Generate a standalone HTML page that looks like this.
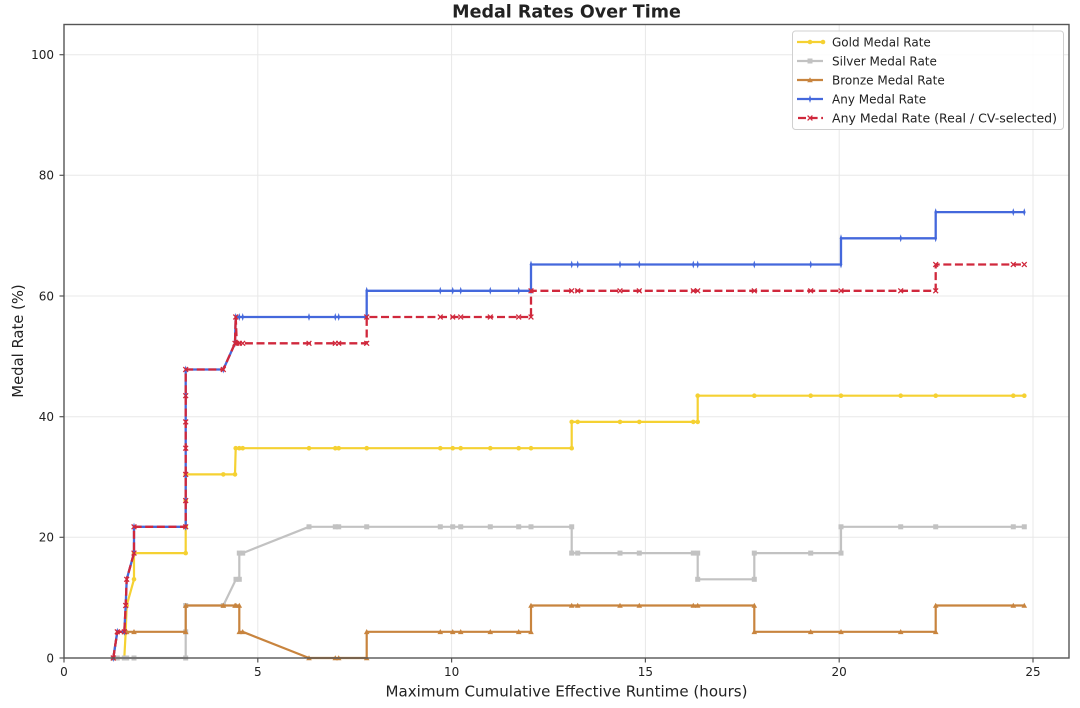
<!DOCTYPE html>
<html>
<head>
<meta charset="utf-8">
<style>
html,body{margin:0;padding:0;background:#fff;}
svg{display:block;}
text{font-family:"DejaVu Sans","Liberation Sans",sans-serif;fill:#222;}
</style>
</head>
<body>
<svg width="1080" height="708" viewBox="0 0 1080 708" xmlns="http://www.w3.org/2000/svg">
<defs>
  <marker id="mg" markerWidth="8" markerHeight="8" refX="4" refY="4" markerUnits="userSpaceOnUse"><circle cx="4" cy="4" r="2.3" fill="#f5d132"/></marker>
  <marker id="ms" markerWidth="8" markerHeight="8" refX="4" refY="4" markerUnits="userSpaceOnUse"><rect x="1.5" y="1.5" width="5" height="5" fill="#c2c2c2"/></marker>
  <marker id="mb" markerWidth="8" markerHeight="8" refX="4" refY="4" markerUnits="userSpaceOnUse"><polygon points="4,1.2 6.8,6.3 1.2,6.3" fill="#c8843e"/></marker>
  <marker id="ma" markerWidth="8" markerHeight="10" refX="4" refY="5" markerUnits="userSpaceOnUse"><path d="M4,1 L5.3,5 L4,9 L2.7,5 Z" fill="#4468dc"/></marker>
  <marker id="mr" markerWidth="8" markerHeight="8" refX="4" refY="4" markerUnits="userSpaceOnUse"><path d="M1.6,1.6 L6.4,6.4 M6.4,1.6 L1.6,6.4" stroke="#d0283c" stroke-width="1.3"/></marker>
</defs>

<!-- title -->
<text x="566.5" y="17.7" font-size="17.5" font-weight="bold" text-anchor="middle" fill="#111">Medal Rates Over Time</text>

<!-- grid -->
<g stroke="#e8e8e8" stroke-width="1">
  <line x1="64" y1="24.5" x2="64" y2="658"/>
  <line x1="257.8" y1="24.5" x2="257.8" y2="658"/>
  <line x1="451.6" y1="24.5" x2="451.6" y2="658"/>
  <line x1="645.4" y1="24.5" x2="645.4" y2="658"/>
  <line x1="839.2" y1="24.5" x2="839.2" y2="658"/>
  <line x1="1033" y1="24.5" x2="1033" y2="658"/>
  <line x1="64" y1="537.3" x2="1069" y2="537.3"/>
  <line x1="64" y1="416.7" x2="1069" y2="416.7"/>
  <line x1="64" y1="296" x2="1069" y2="296"/>
  <line x1="64" y1="175.3" x2="1069" y2="175.3"/>
  <line x1="64" y1="54.7" x2="1069" y2="54.7"/>
</g>

<!-- series -->
<g fill="none" stroke-linejoin="round">
  <polyline stroke="#f5d132" stroke-width="2.2" marker-start="url(#mg)" marker-mid="url(#mg)" marker-end="url(#mg)"
    points="113.3,658 117.3,658 124.3,658 125.7,631.8 126.7,605.5 134,579.3 134,553.1 185.7,553.1 185.7,526.8 185.7,500.6 185.7,474.4 223.3,474.4 235,474.4 235.7,448.2 239.3,448.2 242.7,448.2 309,448.2 335.3,448.2 338.7,448.2 366.7,448.2 440.3,448.2 452.7,448.2 460.7,448.2 490.3,448.2 518.7,448.2 531,448.2 571.7,448.2 571.7,421.9 577.7,421.9 620,421.9 639.3,421.9 693.3,421.9 697.7,421.9 697.7,395.7 754.3,395.7 810.7,395.7 841,395.7 900.7,395.7 935.7,395.7 1013.3,395.7 1024.3,395.7"/>
  <polyline stroke="#c2c2c2" stroke-width="2.2" marker-start="url(#ms)" marker-mid="url(#ms)" marker-end="url(#ms)"
    points="113.3,658 117.3,658 124.3,658 125.7,658 126.7,658 134,658 185.7,658 185.7,631.8 185.7,605.5 223.3,605.5 236,579.3 239.3,579.3 239.3,553.1 242.7,553.1 309,526.8 335.3,526.8 338.7,526.8 366.7,526.8 440.3,526.8 452.7,526.8 460.7,526.8 490.3,526.8 518.7,526.8 531,526.8 571.7,526.8 571.7,553.1 577.7,553.1 620,553.1 639.3,553.1 693.3,553.1 697.7,553.1 697.7,579.3 754.3,579.3 754.3,553.1 810.7,553.1 841,553.1 841,526.8 900.7,526.8 935.7,526.8 1013.3,526.8 1024.3,526.8"/>
  <polyline stroke="#c8843e" stroke-width="2.2" marker-start="url(#mb)" marker-mid="url(#mb)" marker-end="url(#mb)"
    points="113.3,658 117.3,631.8 124.3,631.8 125.7,631.8 126.7,631.8 134,631.8 185.7,631.8 185.7,605.5 223.3,605.5 235,605.5 236,605.5 239.3,605.5 239.3,631.8 242.7,631.8 309,658 335.3,658 338.7,658 366.7,658 366.7,631.8 440.3,631.8 452.7,631.8 460.7,631.8 490.3,631.8 518.7,631.8 531,631.8 531,605.5 571.7,605.5 577.7,605.5 620,605.5 639.3,605.5 693.3,605.5 697.7,605.5 754.3,605.5 754.3,631.8 810.7,631.8 841,631.8 900.7,631.8 935.7,631.8 935.7,605.5 1013.3,605.5 1024.3,605.5"/>
  <polyline stroke="#4468dc" stroke-width="2.3" marker-start="url(#ma)" marker-mid="url(#ma)" marker-end="url(#ma)"
    points="113.3,658 117.3,631.8 124.3,631.8 125.7,605.5 126.7,579.3 134,553.1 134,526.8 185.7,526.8 185.7,500.6 185.7,474.4 185.7,448.2 185.7,421.9 185.7,395.7 185.7,369.5 223.3,369.5 235,343.3 235.7,317 239.3,317 242.7,317 309,317 335.3,317 338.7,317 366.7,317 366.7,290.8 440.3,290.8 452.7,290.8 460.7,290.8 490.3,290.8 518.7,290.8 531,290.8 531,264.5 571.7,264.5 577.7,264.5 620,264.5 639.3,264.5 693.3,264.5 697.7,264.5 754.3,264.5 810.7,264.5 841,264.5 841,238.3 900.7,238.3 935.7,238.3 935.7,212.1 1013.3,212.1 1024.3,212.1"/>
  <polyline stroke="#d0283c" stroke-width="2.3" stroke-dasharray="8,3.6" marker-start="url(#mr)" marker-mid="url(#mr)" marker-end="url(#mr)"
    points="113.3,658 117.3,631.8 124.3,631.8 125.7,605.5 126.7,579.3 134,553.1 134,526.8 185.7,526.8 185.7,500.6 185.7,474.4 185.7,448.2 185.7,421.9 185.7,395.7 185.7,369.5 223.3,369.5 235,343.3 235.7,317 236.8,343.3 239.3,343.3 242.7,343.3 309,343.3 335.3,343.3 338.7,343.3 366.7,343.3 366.7,317 440.3,317 452.7,317 460.7,317 490.3,317 518.7,317 531,317 531,290.8 571.7,290.8 577.7,290.8 620,290.8 639.3,290.8 693.3,290.8 697.7,290.8 754.3,290.8 810.7,290.8 841,290.8 900.7,290.8 935.7,290.8 935.7,264.5 1013.3,264.5 1024.3,264.5"/>
</g>

<!-- frame -->
<rect x="64" y="24.5" width="1005" height="633.5" fill="none" stroke="#555" stroke-width="1.4"/>

<!-- ticks -->
<g stroke="#555" stroke-width="1.2">
  <line x1="64" y1="658" x2="64" y2="662.5"/>
  <line x1="257.8" y1="658" x2="257.8" y2="662.5"/>
  <line x1="451.6" y1="658" x2="451.6" y2="662.5"/>
  <line x1="645.4" y1="658" x2="645.4" y2="662.5"/>
  <line x1="839.2" y1="658" x2="839.2" y2="662.5"/>
  <line x1="1033" y1="658" x2="1033" y2="662.5"/>
  <line x1="59.5" y1="658" x2="64" y2="658"/>
  <line x1="59.5" y1="537.3" x2="64" y2="537.3"/>
  <line x1="59.5" y1="416.7" x2="64" y2="416.7"/>
  <line x1="59.5" y1="296" x2="64" y2="296"/>
  <line x1="59.5" y1="175.3" x2="64" y2="175.3"/>
  <line x1="59.5" y1="54.7" x2="64" y2="54.7"/>
</g>
<g font-size="12" text-anchor="middle">
  <text x="64" y="676">0</text>
  <text x="257.8" y="676">5</text>
  <text x="451.6" y="676">10</text>
  <text x="645.4" y="676">15</text>
  <text x="839.2" y="676">20</text>
  <text x="1033" y="676">25</text>
</g>
<g font-size="12" text-anchor="end">
  <text x="54" y="662.3">0</text>
  <text x="54" y="541.6">20</text>
  <text x="54" y="421">40</text>
  <text x="54" y="300.3">60</text>
  <text x="54" y="179.6">80</text>
  <text x="54" y="59">100</text>
</g>

<!-- axis labels -->
<text x="566.5" y="696.5" font-size="14.8" text-anchor="middle" textLength="362" lengthAdjust="spacingAndGlyphs">Maximum Cumulative Effective Runtime (hours)</text>
<text transform="translate(23,341) rotate(-90)" font-size="14.8" text-anchor="middle">Medal Rate (%)</text>

<!-- legend -->
<rect x="792.5" y="31" width="271" height="98.5" rx="3" fill="#fff" fill-opacity="0.85" stroke="#d0d0d0" stroke-width="1"/>
<g stroke-width="2.2">
  <line x1="797" y1="42" x2="823" y2="42" stroke="#f5d132" marker-end="url(#mg)"/>
  <line x1="797" y1="61" x2="823" y2="61" stroke="#c2c2c2"/>
  <line x1="797" y1="80" x2="823" y2="80" stroke="#c8843e"/>
  <line x1="797" y1="99" x2="823" y2="99" stroke="#4468dc"/>
  <line x1="797" y1="118" x2="823" y2="118" stroke="#d0283c" stroke-dasharray="8,3.6" stroke-dashoffset="-1"/>
</g>
<circle cx="810" cy="42" r="2.3" fill="#f5d132"/>
<rect x="807.5" y="58.5" width="5" height="5" fill="#c2c2c2"/>
<polygon points="810,77.2 812.8,82.3 807.2,82.3" fill="#c8843e"/>
<path d="M810,95 L811.3,99 L810,103 L808.7,99 Z" fill="#4468dc"/>
<path d="M807.6,115.6 L812.4,120.4 M812.4,115.6 L807.6,120.4" stroke="#d0283c" stroke-width="1.3"/>
<g font-size="12">
  <text x="832" y="46.3">Gold Medal Rate</text>
  <text x="832" y="65.3">Silver Medal Rate</text>
  <text x="832" y="84.3">Bronze Medal Rate</text>
  <text x="832" y="103.3">Any Medal Rate</text>
  <text x="832" y="122.3" textLength="225" lengthAdjust="spacingAndGlyphs">Any Medal Rate (Real / CV-selected)</text>
</g>
</svg>
</body>
</html>
